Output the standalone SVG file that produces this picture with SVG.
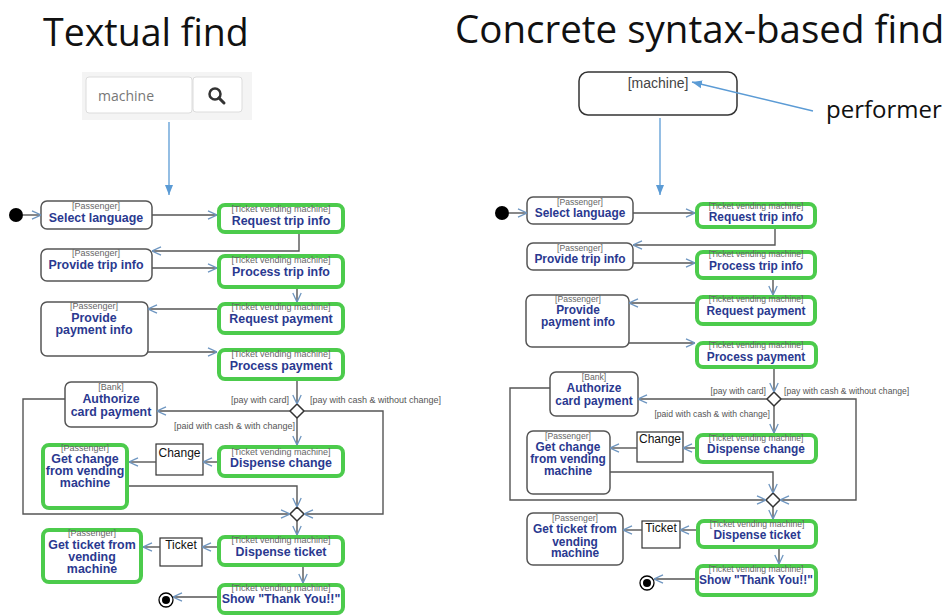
<svg xmlns="http://www.w3.org/2000/svg" width="947" height="615" viewBox="0 0 947 615">
<style>
.title{font-family:"Open Sans","Liberation Sans",sans-serif;fill:#111}
.act{fill:#fff;stroke:#555;stroke-width:1.5}
.hl{fill:#fff;stroke:#4ccb4c;stroke-width:4}
.pin{fill:#fff;stroke:#333;stroke-width:1.2}
.perf{font-family:"Liberation Sans",Arial,sans-serif;font-size:9px;fill:#666;text-anchor:middle}
.perfR{font-family:"Liberation Sans",Arial,sans-serif;font-size:8.6px;fill:#666;text-anchor:middle}
.nm{font-family:"Liberation Sans",Arial,sans-serif;font-size:12.4px;font-weight:bold;fill:#2a3990;text-anchor:middle}
.nmR{font-family:"Liberation Sans",Arial,sans-serif;font-size:11.9px;font-weight:bold;fill:#2a3990;text-anchor:middle}
.pt{font-family:"Liberation Sans",Arial,sans-serif;font-size:12px;fill:#111;text-anchor:middle}
.gd{font-family:"Liberation Sans",Arial,sans-serif;font-size:9px;fill:#555}
.gdR{font-family:"Liberation Sans",Arial,sans-serif;font-size:8.6px;fill:#555}
.cn{fill:none;stroke:#555;stroke-width:1.4;marker-end:url(#open)}
.blue{fill:none;stroke:#5b9bd5;stroke-width:1.3;marker-end:url(#fill)}
.dia{fill:#fff;stroke:#333;stroke-width:1.5}
</style>
<defs>
<marker id="open" viewBox="0 0 10 10" refX="10" refY="5" markerWidth="10" markerHeight="10" markerUnits="userSpaceOnUse" orient="auto">
<path d="M1,0.8 L10,5 L1,9.2" fill="none" stroke="#6d95c0" stroke-width="1.3"/>
</marker>
<marker id="fill" viewBox="0 0 10 10" refX="10" refY="5" markerWidth="10" markerHeight="10" markerUnits="userSpaceOnUse" orient="auto">
<path d="M0,1 L10,5 L0,9 Z" fill="#5b9bd5"/>
</marker>
</defs>
<rect width="947" height="615" fill="#fff"/>

<text class="title" x="43" y="46" font-size="37.5">Textual find</text>
<text class="title" x="455" y="43" font-size="38.5">Concrete syntax-based find</text>
<text class="title" x="826" y="118" font-size="24">performer</text>

<!-- LEFT -->
<g id="search">
<rect x="82" y="72" width="170" height="48" fill="#f4f4f4"/>
<rect x="86" y="77" width="106" height="36" rx="3" fill="#fff" stroke="#dcdcdc"/>
<rect x="193" y="77" width="49" height="35" rx="3" fill="#fff" stroke="#dcdcdc"/>
<text x="98" y="101" font-family="Open Sans,Liberation Sans,sans-serif" font-size="14" fill="#777">machine</text>
<circle cx="215" cy="94" r="5.5" fill="none" stroke="#333" stroke-width="2.5"/>
<line x1="219" y1="98" x2="224" y2="103" stroke="#333" stroke-width="3" stroke-linecap="round"/>
</g>

<g id="L_initial"><circle cx="16" cy="215" r="7" fill="#000"/></g>
<g id="L_select"><rect class="act" x="41" y="201" width="111" height="28" rx="6"/><text class="perf" x="96" y="209">[Passenger]</text><text class="nm" x="96" y="222">Select language</text></g>
<g id="L_rti"><rect class="hl" x="219" y="205" width="124" height="27" rx="6"/><text class="perf" x="281" y="212">[Ticket vending machine]</text><text class="nm" x="281" y="225">Request trip info</text></g>
<g id="L_provtrip"><rect class="act" x="41" y="249" width="111" height="32" rx="6"/><text class="perf" x="96" y="256">[Passenger]</text><text class="nm" x="96" y="269">Provide trip info</text></g>
<g id="L_pti"><rect class="hl" x="219" y="256" width="124" height="31" rx="6"/><text class="perf" x="281" y="263">[Ticket vending machine]</text><text class="nm" x="281" y="276">Process trip info</text></g>
<g id="L_rp"><rect class="hl" x="219" y="304" width="124" height="29" rx="6"/><text class="perf" x="281" y="310">[Ticket vending machine]</text><text class="nm" x="281" y="323">Request payment</text></g>
<g id="L_ppi"><rect class="act" x="41" y="302" width="107" height="54" rx="6"/><text class="perf" x="94" y="309">[Passenger]</text><text class="nm" x="94" y="322">Provide</text><text class="nm" x="94" y="334">payment info</text></g>
<g id="L_pp"><rect class="hl" x="219" y="350" width="124" height="29" rx="6"/><text class="perf" x="281" y="357">[Ticket vending machine]</text><text class="nm" x="281" y="370">Process payment</text></g>
<g id="L_dec"><polygon class="dia" points="297,404 304,411 297,418 290,411"/></g>
<g id="L_auth"><rect class="act" x="65" y="382" width="92" height="45" rx="6"/><text class="perf" x="111" y="390">[Bank]</text><text class="nm" x="111" y="403">Authorize</text><text class="nm" x="111" y="416">card payment</text></g>
<g id="L_dc"><rect class="hl" x="219" y="447" width="124" height="29" rx="6"/><text class="perf" x="281" y="455">[Ticket vending machine]</text><text class="nm" x="281" y="467">Dispense change</text></g>
<g id="L_change"><rect class="pin" x="156" y="444" width="47" height="31"/><text class="pt" x="179.5" y="457">Change</text></g>
<g id="L_getchange"><rect class="hl" x="43" y="445" width="84" height="63" rx="6"/><text class="perf" x="85" y="451">[Passenger]</text><text class="nm" x="85" y="463">Get change</text><text class="nm" x="85" y="475">from vending</text><text class="nm" x="85" y="487">machine</text></g>
<g id="L_merge"><polygon class="dia" points="297,507 304,514 297,521 290,514"/></g>
<g id="L_dt"><rect class="hl" x="219" y="537" width="124" height="28" rx="6"/><text class="perf" x="281" y="543">[Ticket vending machine]</text><text class="nm" x="281" y="556">Dispense ticket</text></g>
<g id="L_ticket"><rect class="pin" x="160" y="538" width="42" height="28"/><text class="pt" x="181" y="549">Ticket</text></g>
<g id="L_getticket"><rect class="hl" x="43" y="530" width="98" height="52" rx="6"/><text class="perf" x="92" y="536">[Passenger]</text><text class="nm" x="92" y="549">Get ticket from</text><text class="nm" x="92" y="561">vending</text><text class="nm" x="92" y="573">machine</text></g>
<g id="L_show"><rect class="hl" x="219" y="585" width="124" height="28" rx="6"/><text class="perf" x="281" y="591">[Ticket vending machine]</text><text class="nm" x="281" y="603">Show "Thank You!!"</text></g>
<g id="L_final"><circle cx="166" cy="600" r="7" fill="#fff" stroke="#000" stroke-width="1.3"/><circle cx="166" cy="600" r="4" fill="#000"/></g>

<!-- RIGHT -->
<g id="R_pattern"><rect x="579" y="72" width="158" height="43" rx="9" fill="#fff" stroke="#333" stroke-width="1.5"/><text x="658" y="88" font-family="Liberation Sans,Arial,sans-serif" font-size="14" fill="#444" text-anchor="middle">[machine]</text></g>
<g id="R_initial"><circle cx="502" cy="213" r="7" fill="#000"/></g>
<g id="R_select"><rect class="act" x="527" y="197" width="106" height="27" rx="6"/><text class="perfR" x="580" y="205">[Passenger]</text><text class="nmR" x="580" y="217">Select language</text></g>
<g id="R_rti"><rect class="hl" x="697" y="204" width="118" height="23" rx="6"/><text class="perfR" x="756" y="209">[Ticket vending machine]</text><text class="nmR" x="756" y="221">Request trip info</text></g>
<g id="R_provtrip"><rect class="act" x="527" y="243" width="106" height="27" rx="6"/><text class="perfR" x="580" y="251">[Passenger]</text><text class="nmR" x="580" y="263">Provide trip info</text></g>
<g id="R_pti"><rect class="hl" x="697" y="252" width="118" height="26" rx="6"/><text class="perfR" x="756" y="257">[Ticket vending machine]</text><text class="nmR" x="756" y="270">Process trip info</text></g>
<g id="R_rp"><rect class="hl" x="697" y="297" width="118" height="27" rx="6"/><text class="perfR" x="756" y="302">[Ticket vending machine]</text><text class="nmR" x="756" y="315">Request payment</text></g>
<g id="R_ppi"><rect class="act" x="526" y="295" width="103" height="52" rx="6"/><text class="perfR" x="578" y="302">[Passenger]</text><text class="nmR" x="578" y="314">Provide</text><text class="nmR" x="578" y="326">payment info</text></g>
<g id="R_pp"><rect class="hl" x="697" y="343" width="119" height="24" rx="6"/><text class="perfR" x="756" y="348">[Ticket vending machine]</text><text class="nmR" x="756" y="361">Process payment</text></g>
<g id="R_dec"><polygon class="dia" points="774,392 781,399 774,406 767,399"/></g>
<g id="R_auth"><rect class="act" x="550" y="372" width="88" height="44" rx="6"/><text class="perfR" x="594" y="380">[Bank]</text><text class="nmR" x="594" y="392">Authorize</text><text class="nmR" x="594" y="405">card payment</text></g>
<g id="R_dc"><rect class="hl" x="697" y="435" width="119" height="27" rx="6"/><text class="perfR" x="756" y="441">[Ticket vending machine]</text><text class="nmR" x="756" y="453">Dispense change</text></g>
<g id="R_change"><rect class="pin" x="637" y="432" width="46" height="30"/><text class="pt" x="660" y="443">Change</text></g>
<g id="R_getchange"><rect class="act" x="527" y="431" width="83" height="63" rx="6"/><text class="perfR" x="568" y="439">[Passenger]</text><text class="nmR" x="568" y="451">Get change</text><text class="nmR" x="568" y="463">from vending</text><text class="nmR" x="568" y="475">machine</text></g>
<g id="R_merge"><polygon class="dia" points="773,493 780,500 773,507 766,500"/></g>
<g id="R_dt"><rect class="hl" x="698" y="521" width="118" height="26" rx="6"/><text class="perfR" x="757" y="527">[Ticket vending machine]</text><text class="nmR" x="757" y="539">Dispense ticket</text></g>
<g id="R_ticket"><rect class="pin" x="642" y="521" width="38" height="27"/><text class="pt" x="661" y="532">Ticket</text></g>
<g id="R_getticket"><rect class="act" x="527" y="513" width="96" height="52" rx="6"/><text class="perfR" x="575" y="521">[Passenger]</text><text class="nmR" x="575" y="533">Get ticket from</text><text class="nmR" x="575" y="546">vending</text><text class="nmR" x="575" y="557">machine</text></g>
<g id="R_show"><rect class="hl" x="697" y="566" width="119" height="29" rx="6"/><text class="perfR" x="756" y="572">[Ticket vending machine]</text><text class="nmR" x="756" y="584">Show "Thank You!!"</text></g>
<g id="R_final"><circle cx="647" cy="583" r="7" fill="#fff" stroke="#000" stroke-width="1.3"/><circle cx="647" cy="583" r="4" fill="#000"/></g>

<g id="connectors">
<path class="blue" d="M169,122 V195"/>
<path class="blue" d="M660,118 V195"/>
<path class="blue" d="M813,111 L692,82"/>
<!-- left -->
<path class="cn" d="M23,215 H41"/>
<path class="cn" d="M152,215 H217"/>
<path class="cn" d="M299,234 V251 H152"/>
<path class="cn" d="M152,268 H217"/>
<path class="cn" d="M297,289 V302"/>
<path class="cn" d="M217,309 H148"/>
<path class="cn" d="M148,352 H217"/>
<path class="cn" d="M297,381 V404"/>
<path class="cn" d="M290,411 H157"/>
<path class="cn" d="M304,411 H383 V514 H304"/>
<path class="cn" d="M65,399 H23 V514 H290"/>
<path class="cn" d="M297,418 V445"/>
<path class="cn" d="M217,462 H203"/>
<path class="cn" d="M156,462 H129"/>
<path class="cn" d="M129,486 H297 V507"/>
<path class="cn" d="M297,521 V535"/>
<path class="cn" d="M217,547 H202"/>
<path class="cn" d="M160,547 H143"/>
<path class="cn" d="M303,567 V583"/>
<path class="cn" d="M217,597 H173"/>
<text class="gd" x="289" y="403" text-anchor="end">[pay with card]</text>
<text class="gd" x="310" y="403">[pay with cash &amp; without change]</text>
<text class="gd" x="295" y="429" text-anchor="end">[paid with cash &amp; with change]</text>
<!-- right -->
<path class="cn" d="M509,213 H527"/>
<path class="cn" d="M633,213 H695"/>
<path class="cn" d="M775,229 V245 H633"/>
<path class="cn" d="M633,263 H695"/>
<path class="cn" d="M773,280 V295"/>
<path class="cn" d="M695,303 H629"/>
<path class="cn" d="M629,343 H695"/>
<path class="cn" d="M774,369 V392"/>
<path class="cn" d="M767,399 H638"/>
<path class="cn" d="M781,399 H856 V500 H780"/>
<path class="cn" d="M550,388 H510 V500 H766"/>
<path class="cn" d="M774,406 V433"/>
<path class="cn" d="M695,448 H683"/>
<path class="cn" d="M637,448 H610"/>
<path class="cn" d="M610,472 H773 V493"/>
<path class="cn" d="M773,507 V519"/>
<path class="cn" d="M696,530 H680"/>
<path class="cn" d="M642,530 H623"/>
<path class="cn" d="M779,549 V564"/>
<path class="cn" d="M695,579 H654"/>
<text class="gdR" x="766" y="394" text-anchor="end">[pay with card]</text>
<text class="gdR" x="784" y="394">[pay with cash &amp; without change]</text>
<text class="gdR" x="770" y="417" text-anchor="end">[paid with cash &amp; with change]</text>
</g>
</svg>
